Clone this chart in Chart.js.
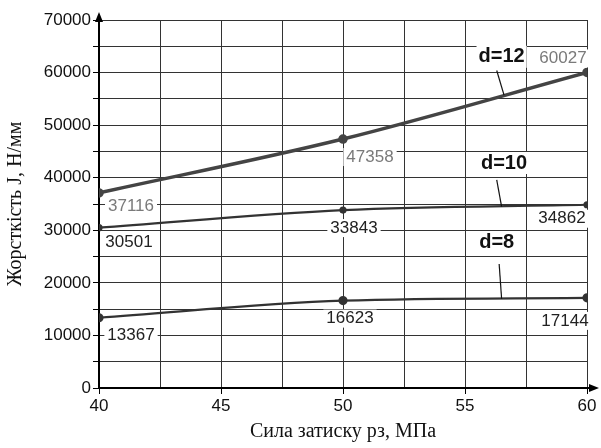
<!DOCTYPE html>
<html><head><meta charset="utf-8">
<script src="https://cdn.jsdelivr.net/npm/chart.js@4.4.0/dist/chart.umd.min.js"></script>
<style>html,body{margin:0;padding:0;background:#fff}#wrap{width:601px;height:448px}</style>
</head><body><div id="wrap"><canvas id="c" width="601" height="448"></canvas></div>
<script>
const pressure = [40, 50, 60];
const stiffD12 = [37116, 47358, 60027];
const stiffD10 = [30501, 33843, 34862];
const stiffD8 = [13367, 16623, 17144];
const seriesNames = ['d=12', 'd=10', 'd=8'];
const yTicks = [0, 10000, 20000, 30000, 40000, 50000, 60000, 70000];
const xTicks = [40, 45, 50, 55, 60];
const allSeries = [stiffD12, stiffD10, stiffD8];

// label offsets (px) relative to each point
const labelOffsets = [
  [[32, 13], [27, 18], [-24, -14]],
  [[30, 15], [11, 18], [-25, 14]],
  [[32, 18], [7, 18], [-22, 23]]
];
const labelColors = ['#7a7a7a', '#222', '#222'];
const labelSizes = [17, 17, 17];
// series-name annotations: text position (data), leader from text to curve at x
const nameAnno = [
  {tx: 56.5, ty: 63000, lx1: 56.3, ly1: 60400, lx2: 56.6},
  {tx: 56.6, ty: 42800, lx1: 56.3, ly1: 39600, lx2: 56.5},
  {tx: 56.3, ty: 27700, lx1: 56.4, ly1: 23600, lx2: 56.5}
];

const deco = {
  id: 'deco',
  afterDatasetsDraw(chart) {
    const ctx = chart.ctx, xs = chart.scales.x, ys = chart.scales.y, ca = chart.chartArea;
    ctx.save();
    // axis arrows
    ctx.fillStyle = '#000';
    ctx.beginPath();
    ctx.moveTo(xs.getPixelForValue(40), ca.top - 8);
    ctx.lineTo(xs.getPixelForValue(40) - 4, ca.top + 2);
    ctx.lineTo(xs.getPixelForValue(40) + 4, ca.top + 2);
    ctx.fill();
    ctx.strokeStyle = '#000'; ctx.lineWidth = 2;
    ctx.beginPath(); ctx.moveTo(ca.right, ca.bottom); ctx.lineTo(ca.right + 6, ca.bottom); ctx.stroke();
    ctx.beginPath();
    ctx.moveTo(ca.right + 12, ca.bottom);
    ctx.lineTo(ca.right + 2, ca.bottom - 4);
    ctx.lineTo(ca.right + 2, ca.bottom + 4);
    ctx.fill();
    // series names with leader lines
    ctx.textAlign = 'center'; ctx.textBaseline = 'middle';
    ctx.font = 'bold 20px "Liberation Sans", Arial, sans-serif';
    nameAnno.forEach((a, i) => {
      const meta = chart.getDatasetMeta(i);
      const tx = xs.getPixelForValue(a.tx), ty = ys.getPixelForValue(a.ty);
      const w = ctx.measureText(seriesNames[i]).width + 4;
      ctx.fillStyle = '#fff';
      ctx.fillRect(tx - w / 2, ty - 11, w, 22);
      ctx.fillStyle = '#111';
      ctx.fillText(seriesNames[i], tx, ty);
      const x2 = xs.getPixelForValue(a.lx2);
      const p = meta.data;
      const y2 = p[1].y + (p[2].y - p[1].y) * (x2 - p[1].x) / (p[2].x - p[1].x);
      ctx.strokeStyle = '#111'; ctx.lineWidth = 1.2;
      ctx.beginPath();
      ctx.moveTo(xs.getPixelForValue(a.lx1), ys.getPixelForValue(a.ly1));
      ctx.lineTo(x2, y2);
      ctx.stroke();
    });
    // value labels
    allSeries.forEach((vals, i) => {
      const meta = chart.getDatasetMeta(i);
      ctx.font = labelSizes[i] + 'px "Liberation Sans", Arial, sans-serif';
      meta.data.forEach((pt, j) => {
        const txt = String(vals[j]);
        const cx = pt.x + labelOffsets[i][j][0], cy = pt.y + labelOffsets[i][j][1];
        const w = ctx.measureText(txt).width + 6;
        ctx.fillStyle = '#fff';
        ctx.fillRect(cx - w / 2, cy - 9, w, 18);
        ctx.fillStyle = labelColors[i];
        ctx.fillText(txt, cx, cy);
      });
    });
    ctx.restore();
  }
};

const styles = [
  {borderColor: '#444', backgroundColor: '#444', borderWidth: 3.5, pointRadius: 3},
  {borderColor: '#333', backgroundColor: '#333', borderWidth: 2.2, pointRadius: 2.5},
  {borderColor: '#333', backgroundColor: '#333', borderWidth: 2.2, pointRadius: 3.5}
];

new Chart(document.getElementById('c'), {
  type: 'line',
  data: {
    datasets: allSeries.map((vals, i) => Object.assign({
      label: seriesNames[i],
      data: vals.map((v, k) => ({x: pressure[k], y: v})),
      tension: 0.4, cubicInterpolationMode: 'monotone', fill: false, pointStyle: 'circle'
    }, styles[i]))
  },
  options: {
    responsive: false, animation: false,
    layout: {padding: {top: 20, right: 14, left: 0, bottom: 0}},
    plugins: {legend: {display: false}, tooltip: {enabled: false}},
    scales: {
      x: {
        type: 'linear', min: 40, max: 60,
        afterFit(s) { s.height = 60; },
        afterBuildTicks(s) { s.ticks = [40, 42.5, 45, 47.5, 50, 52.5, 55, 57.5, 60].map(v => ({value: v})); },
        ticks: {
          autoSkip: false, maxRotation: 0, padding: 2, color: '#111',
          font: {family: '"Liberation Sans", Arial, sans-serif', size: 17},
          callback: v => xTicks.includes(v) ? String(v) : ''
        },
        grid: {color: '#333', lineWidth: 1, tickLength: 6,
          tickColor: c => (c.tick && xTicks.includes(c.tick.value)) ? '#000' : 'rgba(0,0,0,0)'},
        border: {color: '#000', width: 2},
        title: {display: true, text: 'Сила затиску рз, МПа', color: '#111',
          font: {family: '"Liberation Serif", "Times New Roman", serif', size: 20}, padding: {top: 3}}
      },
      y: {
        min: 0, max: 70000,
        afterFit(s) { s.width = 99; },
        ticks: {stepSize: 5000, autoSkip: false, padding: 2, color: '#111',
          font: {family: '"Liberation Sans", Arial, sans-serif', size: 17},
          callback: v => yTicks.includes(v) ? String(v) : ''},
        grid: {color: '#333', lineWidth: 1, tickLength: 6, tickColor: '#000'},
        border: {color: '#000', width: 2},
        title: {display: true, text: 'Жорсткість J, Н/мм', color: '#111',
          font: {family: '"Liberation Serif", "Times New Roman", serif', size: 20}, padding: {bottom: 2}}
      }
    }
  },
  plugins: [deco]
});
</script></body></html>
